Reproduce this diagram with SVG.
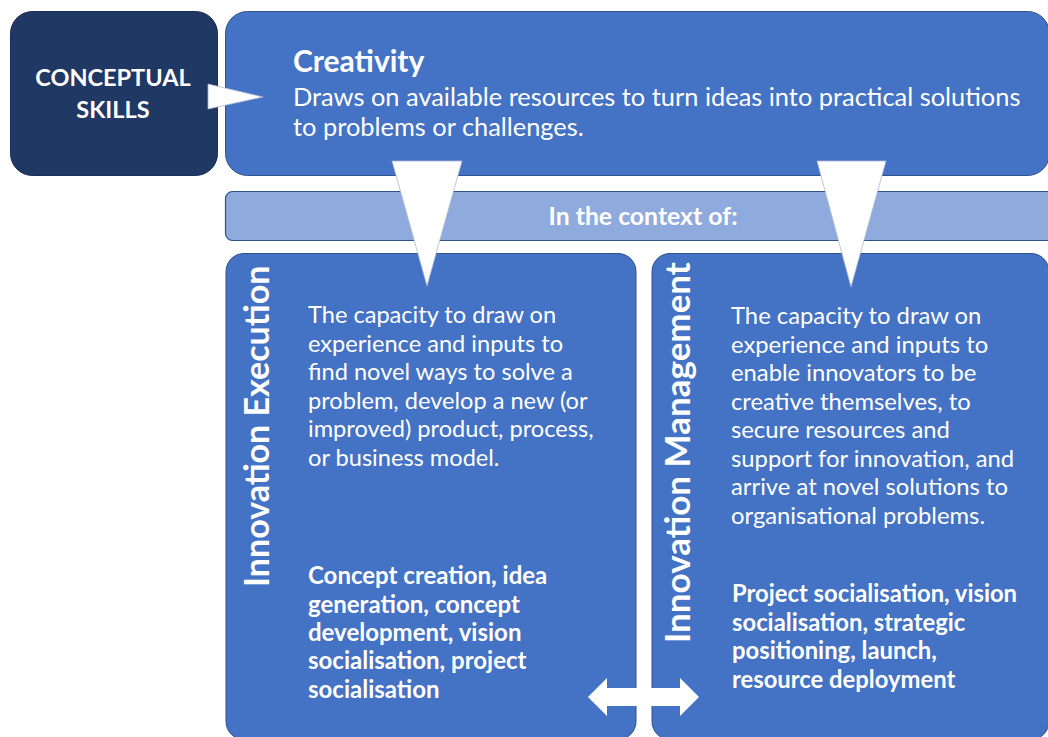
<svg xmlns="http://www.w3.org/2000/svg" width="1048" height="737" viewBox="0 0 1048 737">
<style>
.blue{fill:#4472C4;stroke:#2F528F;stroke-width:1}
.navy{fill:#203864;stroke:#1A2D52;stroke-width:1}
.bar{fill:#8FAADC;stroke:#2F528F;stroke-width:1.2}
.w{fill:#FFFFFF;font-family:Lato,"Open Sans",sans-serif}
.b{font-weight:bold}
.tri{fill:#FFFFFF;stroke:#A9B8D6;stroke-width:0.8}
</style>
<rect width="1048" height="737" fill="#FFFFFF"/>
<g id="node-conceptual">
<rect class="navy" x="10.5" y="11.5" width="207" height="164" rx="22"/>
<text class="w b" font-size="23.5" text-anchor="middle"><tspan x="113" y="86">CONCEPTUAL</tspan><tspan x="113" y="118">SKILLS</tspan></text>
</g>
<g id="node-creativity">
<rect class="blue" x="225.5" y="11.5" width="824" height="164" rx="22"/>
<text class="w b" x="293" y="72" font-size="30">Creativity</text>
<text class="w" font-size="25.4"><tspan x="293" y="106">Draws on available resources to turn ideas into practical solutions</tspan><tspan x="293" y="136">to problems or challenges.</tspan></text>
</g>
<g id="node-context">
<rect class="bar" x="225.5" y="191.5" width="840" height="49" rx="7"/>
<text class="w b" x="643" y="225" font-size="24.8" text-anchor="middle">In the context of:</text>
</g>
<g id="node-execution">
<rect class="blue" x="226" y="253.5" width="410" height="486" rx="18"/>
<text class="w b" font-size="34" transform="translate(269,587) rotate(-90)">Innovation Execution</text>
<text class="w" font-size="23.6"><tspan x="308" y="323">The capacity to draw on</tspan><tspan x="308" y="352">experience and inputs to</tspan><tspan x="308" y="380">find novel ways to solve a</tspan><tspan x="308" y="409">problem, develop a new (or</tspan><tspan x="308" y="437">improved) product, process,</tspan><tspan x="308" y="466">or business model.</tspan></text>
<text class="w b" font-size="24"><tspan x="308" y="584">Concept creation, idea</tspan><tspan x="308" y="613">generation, concept</tspan><tspan x="308" y="641">development, vision</tspan><tspan x="308" y="669">socialisation, project</tspan><tspan x="308" y="698">socialisation</tspan></text>
</g>
<g id="node-management">
<rect class="blue" x="652" y="253.5" width="397" height="486" rx="18"/>
<text class="w b" font-size="35" transform="translate(690,643) rotate(-90)">Innovation Management</text>
<text class="w" font-size="23.8"><tspan x="731" y="324">The capacity to draw on</tspan><tspan x="731" y="353">experience and inputs to</tspan><tspan x="731" y="381">enable innovators to be</tspan><tspan x="731" y="410">creative themselves, to</tspan><tspan x="731" y="438">secure resources and</tspan><tspan x="731" y="467">support for innovation, and</tspan><tspan x="731" y="495">arrive at novel solutions to</tspan><tspan x="731" y="524">organisational problems.</tspan></text>
<text class="w b" font-size="23.8"><tspan x="732" y="602">Project socialisation, vision</tspan><tspan x="732" y="631">socialisation, strategic</tspan><tspan x="732" y="659">positioning, launch,</tspan><tspan x="732" y="688">resource deployment</tspan></text>
</g>
<g id="connectors">
<polygon class="tri" points="208,84 263,97 208,109"/>
<polygon class="tri" points="392,161 462,161 427,286"/>
<polygon class="tri" points="817,161 886,161 851,287"/>
<polygon fill="#FFFFFF" points="588,697 607,678 607,688 680,688 680,678 699,697 680,716 680,706 607,706 607,716"/>
</g>
</svg>
